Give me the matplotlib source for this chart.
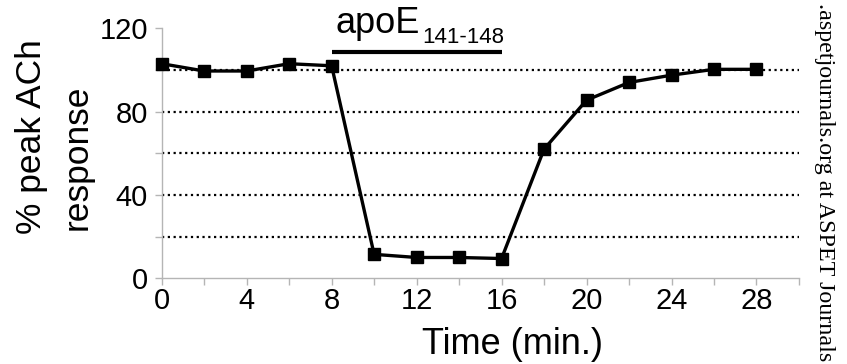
import matplotlib.pyplot as plt
from matplotlib.ticker import MultipleLocator

plt.rcParams['font.family'] = ['Liberation Sans', 'DejaVu Sans']

# 时间点与响应（% peak ACh）
time_min = [0, 2, 4, 6, 8, 10, 12, 14, 16, 18, 20, 22, 24, 26, 28]
response = [103, 99.5, 99.5, 103, 102, 11.5, 10, 10, 9.5, 62, 85.5, 94, 97.5, 100.3, 100.3]

# 药物作用区间
drug_start, drug_end = 8, 16
grid_levels = [20, 40, 60, 80, 100]

fig = plt.figure(figsize=(8.47, 3.64), dpi=100)
ax = fig.add_axes([0.1909, 0.2354, 0.9433 - 0.1909, 0.9223 - 0.2354])

for lv in grid_levels:
    ax.axhline(lv, color="black", lw=1.6, ls=(0, (1, 1.6)), zorder=1)

ax.plot(time_min, response, color="black", lw=2.4, marker="s",
        markersize=9, zorder=3, clip_on=False)

# 给药横线与标签
ax.plot([drug_start, drug_end], [108.6, 108.6], color="black", lw=3,
        solid_capstyle="butt", clip_on=False)
ax.text(12.15, 117.8, "apoE", fontsize=26, ha="right", va="baseline")
ax.text(12.25, 113, "141-148", fontsize=16, ha="left", va="baseline")

ax.set_xlim(0, 30)
ax.set_ylim(0, 120)
ax.xaxis.set_major_locator(MultipleLocator(4))
ax.xaxis.set_minor_locator(MultipleLocator(2))
ax.yaxis.set_major_locator(MultipleLocator(40))
ax.yaxis.set_minor_locator(MultipleLocator(20))

for s in ["top", "right"]:
    ax.spines[s].set_visible(False)
for s in ["left", "bottom"]:
    ax.spines[s].set_color("#b5b5b5")
    ax.spines[s].set_linewidth(1)

ax.tick_params(which="both", colors="#b5b5b5", length=5, width=1,
               labelcolor="black", labelsize=21)
ax.tick_params(axis="x", which="both", pad=1)
ax.tick_params(axis="y", which="both", pad=5)

ax.set_xlabel("Time (min.)", fontsize=26, labelpad=0)
ax.xaxis.set_label_coords(0.55, -0.195)

fig.text(32 / 847, 227 / 364, "% peak ACh", fontsize=25.5, rotation=90,
         ha="center", va="center")
fig.text(77 / 847, 207 / 364, "response", fontsize=25.5, rotation=90,
         ha="center", va="center")

fig.text(824 / 847, 0.5, ".aspetjournals.org at ASPET Journals",
         family="Liberation Serif", fontsize=17.3, rotation=-90,
         ha="center", va="center")

fig.savefig("out.png", dpi=100)
